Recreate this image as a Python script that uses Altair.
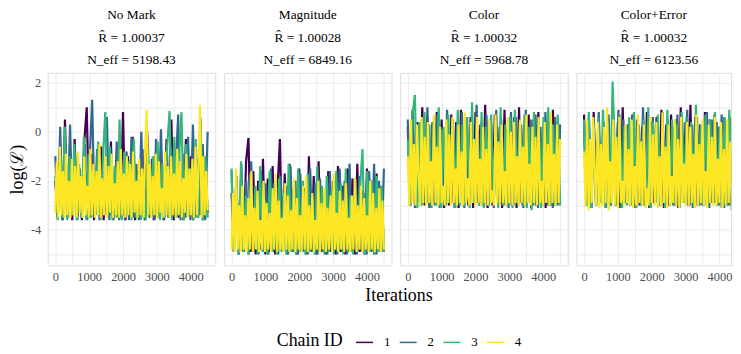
import altair as alt
import pandas as pd
import numpy as np

panels = ["No Mark", "Magnitude", "Color", "Color+Error"]
rhat = ["1.00037", "1.00028", "1.00032", "1.00032"]
neff = ["5198.43", "6849.16", "5968.78", "6123.56"]
chains = ["1", "2", "3", "4"]
colors = ["#440154", "#31688E", "#35B779", "#FDE725"]
last_iter = 4500

# ---- No Mark ----
nomark_c1 = [-2.0, -3.5, -0.6, -3.6, 0.5, -3.4, -1.2, -3.6, -0.3, -3.5, -1.5, -3.6, -0.4, 1.0, -3.5, -0.9, -3.6, -1.8, -3.4, -0.6, -3.6, -1.3, -3.5, -0.4, -3.6, -2.0, -0.8, -3.5, 0.8, -3.6, -1.0, -3.4, -0.2, -3.6, -1.6, -3.5, -0.7, -3.6, 0.0, -3.5, -1.1, -3.6, -0.5, -3.4, -1.4, -3.6, -0.3, -3.5, 0.5, -3.6, -0.9, -3.5, -1.7, -3.6, -0.3, -3.4, -1.0, -3.6, -0.6, -3.5, 0.45, -3.6, -1.2, -3.3]
nomark_c2 = [-1.0, -3.5, 0.2, -3.6, -1.4, -3.5, 0.3, -3.4, -0.9, -3.6, -1.6, -3.5, -0.5, -3.6, -1.1, 1.3, -3.5, -0.7, -3.6, -1.9, -3.4, 0.6, -3.6, -1.2, -3.5, -0.4, -3.6, -1.5, -3.4, -0.8, -3.6, -0.2, -3.5, -1.3, -3.6, 0.0, -3.5, -1.0, -3.4, -1.7, -3.6, -0.3, -3.5, 0.1, -3.6, -1.2, -3.5, -0.6, -3.4, -1.5, 0.7, -3.6, -0.9, -3.5, -0.2, -3.6, 0.3, -3.5, -1.1, -3.4, -0.5, -3.6, 0.0]
nomark_c3 = [-1.8, -3.6, -0.8, -3.5, 0.2, -3.6, -1.0, -3.4, -0.5, -3.6, -1.3, -3.5, -0.2, -3.6, -0.9, -3.5, -1.6, -3.4, -0.4, -3.6, -1.1, 0.8, -3.5, -0.6, -3.6, -1.4, -3.5, 0.5, -3.6, -0.8, -3.4, -1.2, -3.6, -0.3, -3.5, -1.7, -3.6, -2.5, -3.6, -0.7, -3.5, -1.0, -3.4, -0.4, -3.6, -1.3, -3.5, -0.6, 0.85, -3.6, -0.2, -3.5, -1.1, 0.8, -3.6, -0.5, -3.4, -1.5, -3.6, -0.3, -3.5, 0.6, -3.6, -1.0, -3.5]
nomark_c4 = [-3.3, -1.2, -3.5, -0.6, -3.4, -1.6, -3.5, -0.9, -3.4, -2.0, -3.5, -1.1, -3.4, -1.4, -3.5, -0.8, -3.3, -1.8, -3.5, -1.0, -3.4, -2.2, -3.5, -0.7, -3.4, -1.3, -3.5, -1.6, -3.4, -0.5, -3.5, -1.9, -3.4, -1.0, -3.5, -1.4, -3.3, -0.9, -3.5, -2.1, -3.4, -1.2, -3.5, -0.7, -3.4, -1.7, -3.5, -1.0, -3.4, -1.3, -3.5, -0.8, -3.3, -2.0, -3.5, -1.1, -3.4, -1.5, -3.5, -0.6, 0.9, -3.4, -1.3, -3.5, -1.8, -3.4, -0.9, -3.5, -1.2, -3.3, -2.3, -3.5, -0.8, -3.4, -1.4, -3.5, -1.0, -3.4, -1.7, -3.5, -0.7, -3.4, -1.2, -3.5, -1.9, -3.3, -0.9, -3.5, -1.5, -3.4, -1.1, -3.5, -0.6, -3.4, -1.3, 1.1, -3.5, -1.0, -3.4, -1.6, -3.2]

# ---- Magnitude ----
mag_c1 = [-2.5, -4.9, -1.8, -5.0, -2.2, -4.9, -1.2, -0.25, -4.9, -1.6, -5.0, -2.0, -4.8, -1.1, -5.0, -1.9, -4.9, -1.4, -5.0, -2.4, -0.3, -4.9, -1.7, -5.0, -1.3, -4.9, -2.1, -5.0, -1.5, -4.9, -2.3, -5.0, -1.0, -4.9, -1.8, -5.0, -1.2, -4.9, -2.6, -5.0, -1.6, -4.9, -2.0, -5.0, -1.4, -4.9, -2.2, -5.0, -1.5, -4.8, -1.9, -5.0, -1.3, -4.9, -2.4, -5.0, -1.5, -4.9, -2.0, -5.0, -1.7, -4.9, -2.2, -4.9]
mag_c2 = [-1.6, -4.9, -2.3, -5.0, -1.3, -4.9, -2.0, -5.0, -1.2, -4.9, -2.5, -5.0, -1.6, -4.9, -2.1, -5.0, -1.5, -4.9, -2.7, -5.0, -1.8, -4.9, -2.2, -5.0, -1.4, -4.9, -2.0, -5.0, -1.7, -4.9, -2.4, -5.0, -1.5, -4.9, -2.1, -5.0, -1.9, -4.9, -2.6, -5.0, -1.6, -4.9, -2.3, -5.0, -1.5, -4.9, -2.0, -5.0, -1.3, -4.9, -2.2, -5.0, -1.8, -4.9, -2.5, -5.0, -1.6, -4.9, -1.3, -5.0, -2.0, -4.9, -1.5]
mag_c3 = [-1.5, -4.9, -2.0, -5.0, -1.2, -4.9, -2.6, -5.0, -1.7, -4.9, -2.2, -5.0, -1.4, -4.9, -2.8, -5.0, -1.6, -4.9, -2.1, -5.0, -1.9, -4.9, -2.5, -5.0, -1.3, -4.9, -2.3, -5.0, -1.5, -4.9, -2.0, -5.0, -1.7, -4.9, -2.7, -5.0, -1.4, -4.9, -2.2, -5.0, -1.8, -4.9, -2.4, -5.0, -1.6, -4.9, -2.1, -5.0, -1.5, -4.9, -2.6, -5.0, -1.9, -4.9, -2.3, -0.7, -5.0, -1.6, -4.9, -2.0, -5.0, -1.8, -4.9, -2.2, -4.9]
mag_c4 = [-4.8, -2.5, -4.9, -1.5, -4.8, -3.0, -4.9, -2.2, -4.8, -3.4, -4.9, -2.7, -4.8, -1.6, -4.9, -3.1, -4.8, -2.4, -4.9, -3.6, -4.8, -2.0, -4.9, -2.9, -4.8, -3.3, -4.9, -2.3, -4.8, -1.7, -4.9, -2.8, -4.8, -3.5, -4.9, -2.1, -4.8, -2.6, -4.9, -3.2, -4.8, -1.9, -4.9, -2.7, -4.8, -3.4, -4.9, -2.2, -4.8, -1.8, -4.9, -3.0, -4.8, -2.5, -4.9, -3.6, -4.8, -2.0, -4.9, -2.9, -4.8, -2.3, -4.9, -3.1, -4.8, -2.6, -4.9, -1.7, -4.8, -3.3, -4.9, -2.4, -4.8, -2.8, -4.9, -2.1, -4.8, -3.5, -4.9, -2.6, -4.8, -1.9, -4.9, -3.0, -4.8, -2.2, -4.9, -2.7, -4.8, -3.4, -4.9, -2.0, -4.8, -2.5, -4.9, -3.1, -4.8, -2.3, -4.9, -2.8, -4.8]

# ---- Color ----
col_c1 = [0.2, -3.0, 0.9, -3.1, 0.4, -2.8, 1.0, -3.0, 0.6, -3.1, 0.3, -2.9, 0.8, -3.0, 0.5, -3.1, 0.1, -3.0, 0.7, -2.9, 0.4, -3.1, 0.9, -3.0, 0.2, -3.0, 0.6, -3.1, 0.8, -2.9, 0.3, -3.0, 1.1, -3.1, 0.5, -3.0, 0.7, -2.9, 0.2, -3.1, 0.9, -3.0, 0.4, -3.0, 0.6, -3.1, 1.0, -2.9, 0.3, -3.0, 0.7, -3.1, 0.5, -3.0, 0.8, -2.9, 0.2, -3.1, 0.6, -3.0, 0.9, -3.0, 0.4, -0.5]
col_c2 = [0.5, -3.0, 0.8, -3.1, 0.2, -3.0, 0.6, -2.9, 1.0, -3.1, 0.4, -3.0, 0.7, -3.1, 0.1, -3.0, 0.9, -2.9, 0.5, -3.1, 0.3, -3.0, 0.8, -3.1, 0.6, -3.0, 0.2, -2.9, 1.1, -3.0, 0.4, -3.1, 0.7, -3.0, 0.3, -3.1, 0.9, -2.9, 0.5, -3.0, 0.1, -3.1, 0.8, -3.0, 0.6, -3.0, 0.3, -3.1, 0.9, -2.9, 0.5, -3.0, 0.7, -3.1, 0.2, -3.0, 0.8, -3.0, 0.4, -3.1, 0.6, -3.0, 0.3]
col_c3 = [-0.3, -3.0, 0.7, 1.5, -3.1, 0.4, -3.0, 0.8, -2.9, 0.3, -3.1, 0.6, -3.0, 1.0, -3.1, 0.2, -3.0, 0.7, -2.9, 0.5, -3.1, 0.9, -3.0, 0.3, -3.0, 0.6, -3.1, 1.2, -2.9, 0.4, -3.0, 0.8, -3.1, 0.2, -3.0, 0.7, -2.9, 0.5, -3.1, 1.0, -3.0, 0.3, -3.0, 0.6, -3.1, 0.9, -2.9, 0.4, -3.0, 0.7, -3.1, 0.2, -3.2, 0.8, -3.0, 0.5, -3.1, 0.6, -2.9, 1.0, -3.0, 0.3, -3.0, 0.7, -3.0]
col_c4 = [-1.0, -3.0, 0.5, -2.9, -0.5, -3.0, 0.3, -1.8, -3.0, 0.6, -2.9, -0.2, -3.0, 0.4, -2.9, -1.2, -3.0, 0.7, -2.9, -0.6, -3.0, 0.2, -2.9, -2.2, -3.0, 0.5, -2.9, -0.1, -3.0, 0.6, -2.9, -1.5, -3.0, 0.3, -2.9, -0.8, -3.0, 0.8, -2.9, -1.9, -3.0, 0.4, -2.9, -0.3, -3.0, 0.6, -2.9, -1.1, -3.0, 0.2, -2.9, -0.7, -3.0, 0.5, -2.9, -2.4, -3.0, 0.7, -2.9, -0.4, -3.0, 0.3, -2.9, -1.6, -3.0, 0.6, -2.9, 0.0, -3.0, 0.4, -2.9, -1.0, -3.0, 0.5, -2.9, -0.6, -3.0, 0.7, -2.9, -1.3, -3.0, 0.2, -2.9, -0.2, -3.0, 0.6, -2.9, -2.0, -3.0, 0.4, -2.9, -0.5, -3.0, 0.8, -2.9, -0.9, -3.0, 0.3, -2.9, -0.3]

# ---- Color+Error ----
cerr_c1 = [0.7, -3.0, 0.3, -3.1, 0.8, -3.0, 0.5, -2.9, 0.2, -3.1, 0.6, -3.0, 0.9, -3.0, 0.4, -3.1, 1.0, -2.9, 0.3, -3.0, 0.7, -3.1, 0.5, -3.0, 0.2, -3.0, 0.8, -3.1, 0.4, -2.9, 0.6, -3.0, 0.9, -3.1, 0.3, -3.0, 0.7, -3.0, 0.5, -3.1, 1.0, -2.9, 0.4, -3.0, 1.1, -3.1, 0.6, -3.0, 0.3, -3.0, 0.8, -3.1, 0.5, -2.9, 0.7, -3.0, 0.2, -3.1, 0.6, -3.0, 0.4, -3.0, 0.7, -3.1]
cerr_c2 = [0.3, -3.0, 0.6, -3.1, 0.2, -3.0, 0.8, -2.9, 0.4, -3.1, 0.7, -3.0, 0.1, -3.0, 0.9, -3.1, 0.5, -2.9, 0.3, -3.0, 0.7, -3.1, 0.2, -3.0, 1.0, -3.0, 0.4, -3.1, 0.6, -2.9, 0.3, -3.0, 0.8, -3.1, 0.5, -3.0, 0.2, -3.0, 0.7, -3.1, 0.4, -2.9, 0.9, -3.0, 0.3, -3.1, 0.6, -3.0, 0.2, -3.0, 0.8, -3.1, 0.5, -2.9, 0.4, -3.0, 0.7, -3.1, 0.3, -3.0, 0.6, -3.0, 0.5]
cerr_c3 = [0.5, -3.0, 0.8, -3.1, 0.3, -3.0, 0.6, -2.9, 0.9, -3.1, 0.4, -3.0, 2.05, -1.0, -3.0, 0.7, -3.1, 0.2, -3.0, 0.6, -2.9, 0.8, -3.1, 0.3, -3.0, 0.5, -3.0, 1.0, -3.1, 0.4, -2.9, 0.7, -3.0, 0.2, -3.1, 0.9, -3.0, 0.5, -3.0, 0.3, -3.1, 0.8, -2.9, 0.6, -3.0, 0.4, -3.1, 1.1, -3.0, 0.3, -3.0, 0.7, -3.1, 0.5, -2.9, 0.8, -3.0, 0.2, -3.1, 0.6, -3.0, 0.9, -3.2, 0.4, -3.0]
cerr_c4 = [-0.8, -3.0, 0.5, -3.2, -0.3, -2.9, 0.6, -1.7, -3.0, 0.4, -3.1, -0.5, -3.0, 0.2, -2.9, 1.0, -3.2, -1.2, -2.9, 0.5, -3.0, -0.2, -3.1, 0.6, -2.9, -2.0, -3.0, 0.3, -2.9, -0.7, -3.0, 0.5, -3.1, -1.4, -3.0, 0.7, -2.9, -0.4, -3.0, 0.3, -3.1, -2.3, -3.0, 0.6, -2.9, -0.1, -3.0, 0.4, -3.1, -1.0, -3.0, 0.8, -2.9, -0.6, -3.1, 0.3, -3.0, -1.8, -2.9, 0.5, -3.0, -0.3, -3.1, 0.6, -2.9, -1.3, -3.0, 0.4, -3.0, 0.2, -2.9, -0.9, -3.1, 0.7, -3.0, -0.5, -2.9, 0.5, -3.0, -1.6, -3.1, 0.3, -2.9, -0.2, -3.0, 0.6, -3.0, -1.1, -2.9, 0.4, -3.1, -0.7, -3.0, 0.5, -2.9, -0.4, -3.0, 0.6, -3.1, -0.9]

series = {
    "No Mark": [nomark_c1, nomark_c2, nomark_c3, nomark_c4],
    "Magnitude": [mag_c1, mag_c2, mag_c3, mag_c4],
    "Color": [col_c1, col_c2, col_c3, col_c4],
    "Color+Error": [cerr_c1, cerr_c2, cerr_c3, cerr_c4],
}

rows = []
for p in panels:
    for c, vals in zip(chains, series[p]):
        its = np.linspace(0, last_iter, len(vals))
        for k, (x, v) in enumerate(zip(its, vals)):
            rows.append({"panel": p, "chain": c, "iteration": float(x), "value": v, "k": k})
df = pd.DataFrame(rows)

serif = "Liberation Serif"
grid_col = "#ebebeb"
px_per_iter = 169 / 4950.0

color_enc = alt.Color(
    "chain:N",
    scale=alt.Scale(domain=chains, range=colors),
    legend=alt.Legend(
        title="Chain ID", orient="none", legendX=231, legendY=262,
        direction="horizontal", titleOrient="left",
        symbolType="stroke", symbolStrokeWidth=1.5, symbolSize=290,
        titleFont=serif, titleFontSize=18, titleFontWeight="normal", titleColor="black",
        titlePadding=12, labelOffset=10,
        labelFont=serif, labelFontSize=13, labelColor="black", columnPadding=5,
    ),
)

def make_panel(i, width):
    p = panels[i]
    sub = df[df.panel == p]
    xmax = -225 + width / px_per_iter
    if i == 0:
        yax = alt.Axis(
            values=list(range(-5, 3)),
            labelExpr="datum.value % 2 == 0 ? toString(datum.value) : ''",
            ticks=False, domain=False, labelPadding=7, titlePadding=4,
            titleFont=serif, titleFontSize=18, titleFontWeight="normal", titleColor="black",
            labelFont=serif, labelFontSize=12.5, labelColor="#4d4d4d",
            gridColor=grid_col, gridWidth=1,
        )
        ytitle = "log(\u2112)"
    else:
        yax = alt.Axis(values=list(range(-5, 3)), labels=False, ticks=False, domain=False,
                       gridColor=grid_col, gridWidth=1)
        ytitle = None
    xargs = dict(
        values=list(range(0, 5000, 500)),
        labelExpr="datum.value % 1000 == 0 ? toString(datum.value) : ''",
        ticks=False, domain=False, labelPadding=5,
        labelFont=serif, labelFontSize=12.5, labelColor="#4d4d4d",
        gridColor=grid_col, gridWidth=1,
    )
    xtitle = None
    if i == 1:
        xargs.update(titleX=176, titleY=31, titleAlign="center", titleBaseline="middle",
                     titleFont=serif, titleFontSize=18, titleFontWeight="normal",
                     titleColor="black")
        xtitle = "Iterations"
    xax = alt.Axis(**xargs)
    return (
        alt.Chart(sub)
        .mark_line(strokeWidth=2.2, clip=True)
        .encode(
            x=alt.X("iteration:Q", axis=xax, title=xtitle,
                    scale=alt.Scale(domain=[-225, xmax], nice=False, zero=False)),
            y=alt.Y("value:Q", axis=yax, title=ytitle,
                    scale=alt.Scale(domain=[-5.44, 2.4], nice=False, zero=False)),
            color=color_enc,
            order="k:Q",
        )
        .properties(
            width=width, height=194,
            title=alt.TitleParams(
                text=[p, "R\u0302 = " + rhat[i], "N_eff = " + neff[i]],
                font=serif, fontSize=13.5, fontWeight="normal", color="black",
                lineHeight=23, anchor="middle", offset=6,
            ),
        )
    )

widths = [169, 169, 169, 156]
chart = (
    alt.hconcat(*[make_panel(i, widths[i]) for i in range(4)], spacing=8.7, bounds="flush")
    .configure_view(strokeWidth=0)
    .configure(padding={"left": 0, "top": -2, "right": 0, "bottom": 0})
)

chart.save("out.html", embed_options={"renderer": "svg", "actions": False})
